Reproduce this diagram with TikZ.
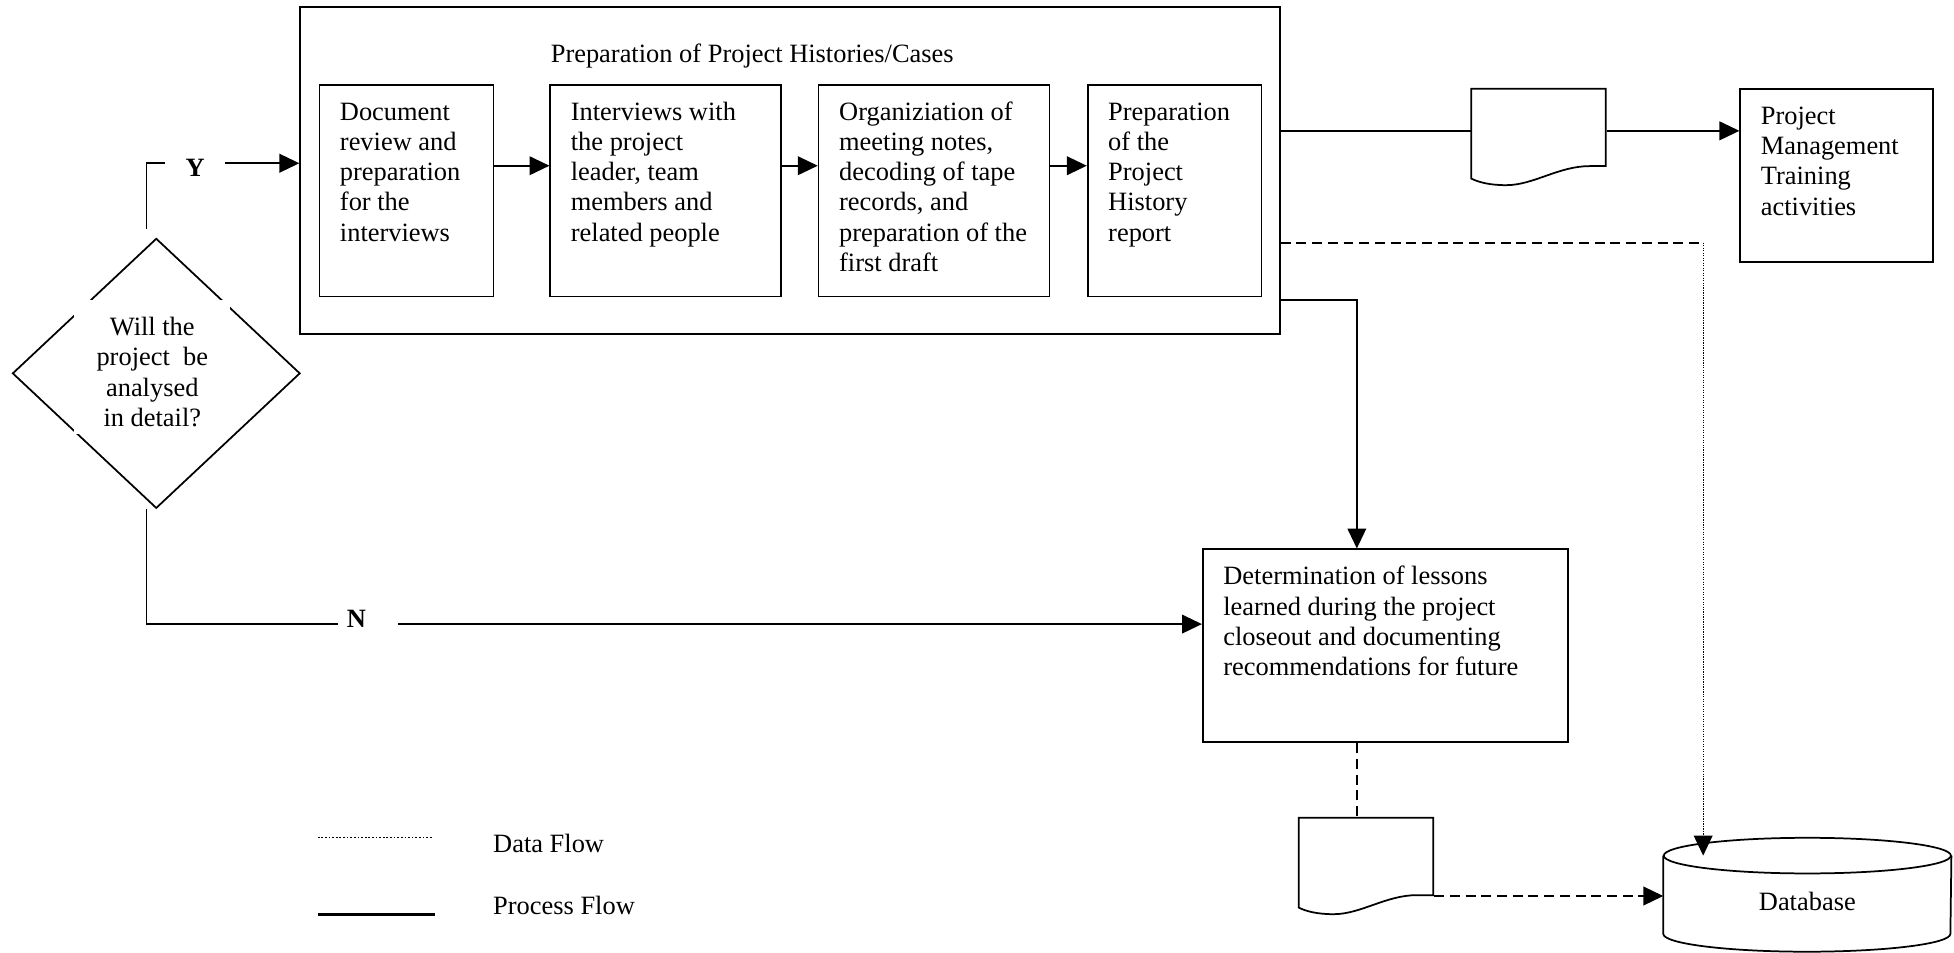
\documentclass[tikz,border=0pt]{standalone}
\usepackage{fontspec}
\setmainfont{Liberation Serif}
\usetikzlibrary{arrows.meta,shapes.geometric}

\tikzset{
  boxline/.style={draw=black, line width=0.7pt},
  procbox/.style={boxline, rectangle, inner sep=0pt},
  txt/.style={anchor=north west, align=left, inner sep=0pt},
  procline/.style={line width=0.7pt},
  arrowend/.style={-{Triangle[length=8pt,width=7.5pt]}},
  flow/.style={procline, arrowend},
  dashline/.style={line width=0.75pt, dash pattern=on 4pt off 2.3pt},
  dotline/.style={line width=0.5pt, dash pattern=on 0.5pt off 0.5pt},
  legdot/.style={line width=0.7pt, dash pattern=on 0.7pt off 0.75pt},
  legsolid/.style={line width=1.1pt},
  yn/.style={fill=white, inner sep=0pt, font=\fontsize{10.6pt}{12.15pt}\selectfont\bfseries},
  docnode/.style={inner sep=0pt, minimum width=54pt, minimum height=33.3pt},
}

% document symbol with a wavy lower edge, drawn on a named node
\newcommand{\drawdoc}[1]{%
  \begin{scope}[shift={(#1.north west)}]
    \draw[boxline] (0,0) -- (108,0) -- (108,62) -- (95,62)
      .. controls (70,62) and (50,77.3) .. (28,77.3)
      .. controls (15,77.3) and (6,75) .. (0,72) -- cycle;
  \end{scope}}

\begin{document}
\begin{tikzpicture}[x=0.5pt, y=-0.5pt, font=\fontsize{10.6pt}{12.15pt}\selectfont]
\useasboundingbox (0,0) rectangle (1568,764);

% enclosing process with its four steps
\node[procbox, minimum width=393.05pt, minimum height=131.05pt] (prep) at (633.95,136.95) {};
\node[anchor=base west, inner sep=0pt] (preptitle) at (441.6,50) {Preparation of Project Histories/Cases};

\node[procbox, minimum width=69.85pt, minimum height=84.9pt] (b1) at (326.15,153.1) {};
\node[procbox, minimum width=92.6pt, minimum height=84.9pt] (b2) at (534.2,153.1) {};
\node[procbox, minimum width=92.6pt, minimum height=84.9pt] (b3) at (749.5,153.1) {};
\node[procbox, minimum width=69.7pt, minimum height=84.9pt] (b4) at (942.5,153.1) {};

\node[txt] (t1) at ([shift={(16.8,11.5)}]b1.north west) {\strut Document\\review and\\preparation\\for the\\interviews};
\node[txt] (t2) at ([shift={(16.8,11.5)}]b2.north west) {\strut Interviews with\\the project\\leader, team\\members and\\related people};
\node[txt] (t3) at ([shift={(16.8,11.5)}]b3.north west) {\strut Organiziation of\\meeting notes,\\decoding of tape\\records, and\\preparation of the\\first draft};
\node[txt] (t4) at ([shift={(16.8,11.5)}]b4.north west) {\strut Preparation\\of the\\Project\\History\\report};

% training activities
\node[procbox, minimum width=77.4pt, minimum height=69.4pt] (pmt) at (1473.9,141.1) {};
\node[txt] (tpmt) at ([shift={(16.8,11.3)}]pmt.north west) {\strut Project\\Management\\Training\\activities};

% lessons learned
\node[procbox, minimum width=146.5pt, minimum height=77.45pt] (les) at (1111.7,518.25) {};
\node[txt] (tles) at ([shift={(16.8,11.8)}]les.north west) {\strut Determination of lessons\\learned during the project\\closeout and documenting\\recommendations for future};

% documents
\node[docnode] (doc1) at (1235,105) {};
\drawdoc{doc1}
\node[docnode] (doc2) at (1096.5,690) {};
\drawdoc{doc2}

% database cylinder
\node[inner sep=0pt, minimum width=115.2pt, minimum height=31pt, text height=12.8pt, text depth=0pt] (db) at (1450.3,718) {Database};
\draw[boxline] (db.north west) -- (db.south west)
  arc[start angle=180, end angle=360, x radius=57.6pt, y radius=7.15pt] -- (db.north east);
\draw[boxline] (db.north) ellipse[x radius=57.6pt, y radius=7.15pt];

% decision
\node[draw, diamond, line width=0.7pt, minimum width=115.4pt, minimum height=108.3pt, inner sep=0pt] (dec) at (125.4,299.6) {};
\fill[white] (59,240.7) rectangle (184.5,348);
\node[anchor=north, align=center, inner sep=0pt] (dectext) at (122.2,251.8) {\strut Will the\\project~~be\\analysed\\in detail?};

% process flow between the steps
\coordinate (arow) at (0,133);
\draw[flow] (b1.east |- arow) -- (b2.west |- arow);
\draw[flow] (b2.east |- arow) -- (b3.west |- arow);
\draw[flow] (b3.east |- arow) -- (b4.west |- arow);

% decision branches
\coordinate (ycor) at (117.5,131);
\draw[flow] ([shift={(-7.9,-6.7)}]dec.north) -- (ycor) -- (ycor -| prep.west);
\coordinate (ncor) at (117.5,500.8);
\draw[flow] ([shift={(-7.9,0)}]dec.south) -- (ncor) -- (ncor -| les.west);
\node[yn, minimum width=24.2pt, minimum height=9pt] (ylab) at (156.7,135) {Y};
\node[yn, anchor=west, minimum height=9pt] (nlab) at (271,496.8) {\makebox[24pt][l]{\hspace*{3.5pt}N}};

% outputs of the case preparation
\draw[procline] (prep.east |- doc1.west) -- (doc1.west);
\draw[flow] (doc1.east) -- (doc1.east -| pmt.west);

\coordinate (dcor) at (1366.7,194.7);
\draw[dashline] (prep.east |- dcor) -- (dcor);
\draw[dotline, arrowend] (dcor) -- (dcor |- db.north);

\coordinate (lcor) at (1088.8,240.7);
\draw[flow] (prep.east |- lcor) -- (lcor) -- (lcor |- les.north);
\draw[dashline] (lcor |- les.south) -- (lcor |- doc2.north);
\coordinate (d2out) at ([shift={(0,29)}]doc2.east);
\draw[dashline, arrowend] (d2out) -- (d2out -| db.west);

% legend
\coordinate (lgd1) at (255,672);
\coordinate (lgd2) at (346.5,672);
\draw[legdot] (lgd1) -- (lgd2);
\coordinate (lgp1) at (255,734);
\coordinate (lgp2) at (349,734);
\draw[legsolid] (lgp1) -- (lgp2);
\node[anchor=base west, inner sep=0pt] (ldata) at (395.4,684) {Data Flow};
\node[anchor=base west, inner sep=0pt] (lproc) at (395.4,734.2) {Process Flow};
\end{tikzpicture}
\end{document}
